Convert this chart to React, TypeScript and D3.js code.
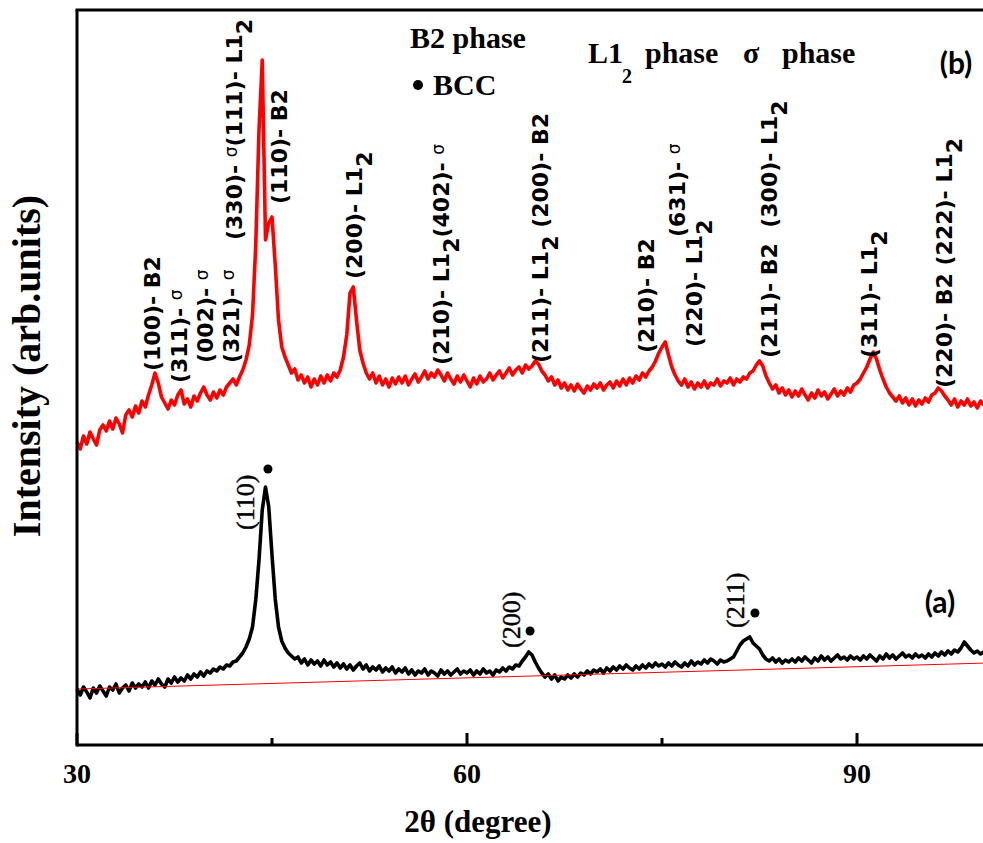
import React, { useEffect, useRef } from "react";
import * as d3 from "d3";

const W = 983;
const H = 843;

// 2θ grid of both scans, 0.25 degree steps from 30 to 99.75
const twoTheta: number[] = d3.range(0, 280).map((i) => 30 + i * 0.25);

// (b) red scan, intensity in arb. units
const scanB: number[] = [
  303, 296, 309, 301, 313, 306, 300, 315, 320, 314, 324, 316, 327, 321, 312, 330, 335, 328, 339, 332,
  344, 338, 350, 360, 372, 362, 348, 342, 336, 345, 340, 350, 355, 341, 346, 338, 349, 344, 352, 358,
  350, 345, 353, 347, 355, 350, 358, 362, 366, 360, 368, 375, 385, 400, 430, 500, 615, 685, 505, 522,
  528, 480, 425, 398, 388, 380, 372, 376, 365, 370, 362, 368, 358, 366, 360, 369, 362, 370, 364, 372,
  368, 375, 388, 410, 452, 458, 425, 395, 382, 372, 366, 372, 362, 369, 360, 366, 358, 367, 361, 368,
  362, 369, 360, 366, 371, 363, 368, 374, 366, 372, 368, 375, 370, 364, 372, 366, 361, 369, 363, 370,
  364, 358, 367, 361, 369, 363, 366, 372, 365, 370, 374, 367, 372, 377, 370, 375, 378, 372, 380, 376,
  379, 384, 381, 374, 370, 364, 368, 360, 365, 357, 362, 355, 360, 354, 361, 356, 352, 359, 355, 361,
  357, 362, 355, 360, 363, 357, 364, 359, 366, 360, 367, 362, 369, 365, 372, 368, 374, 378, 384, 392,
  398, 403, 390, 378, 370, 364, 360, 366, 358, 363, 356, 362, 358, 364, 357, 362, 360, 366, 359, 364,
  362, 367, 360, 366, 363, 368, 366, 372, 374, 380, 384, 379, 369, 362, 356, 360, 352, 357, 350, 355,
  348, 354, 349, 356, 350, 345, 352, 347, 355, 349, 353, 346, 351, 356, 349, 354, 350, 357, 353, 360,
  362, 366, 372, 378, 386, 393, 386, 375, 366, 358, 352, 348, 344, 349, 342, 347, 340, 346, 339, 345,
  341, 347, 343, 350, 352, 357, 354, 349, 345, 340, 346, 338, 344, 340, 346, 339, 343, 337, 344, 340,
];

// (a) black scan
const scanA: number[] = [
  56, 50, 58, 53, 47, 57, 52, 59, 54, 49, 58, 55, 61, 52, 57, 60, 54, 62, 57, 61,
  58, 63, 57, 64, 60, 66, 61, 58, 66, 62, 68, 63, 67, 64, 70, 66, 71, 68, 73, 69,
  74, 72, 76, 74, 78, 76, 80, 79, 83, 84, 88, 92, 98, 106, 118, 145, 185, 235, 258, 238,
  190, 146, 118, 104, 97, 92, 89, 86, 88, 82, 86, 80, 85, 81, 84, 79, 85, 80, 83, 78,
  82, 77, 81, 76, 80, 75, 79, 82, 76, 80, 74, 78, 75, 79, 73, 77, 74, 78, 72, 76,
  73, 77, 71, 75, 70, 74, 72, 76, 70, 74, 72, 69, 75, 71, 74, 70, 73, 76, 71, 74,
  72, 75, 70, 74, 71, 76, 72, 74, 70, 75, 73, 77, 74, 78, 76, 80, 79, 84, 88, 93,
  90, 83, 77, 72, 68, 71, 66, 70, 64, 68, 66, 70, 67, 71, 68, 72, 70, 74, 71, 75,
  73, 76, 72, 77, 74, 78, 75, 79, 76, 80, 77, 75, 79, 76, 80, 77, 81, 78, 82, 79,
  81, 78, 82, 79, 83, 80, 78, 82, 79, 84, 80, 83, 81, 85, 82, 86, 84, 81, 85, 83,
  84, 86, 88, 94, 100, 104, 106, 108, 102, 99, 96, 90, 86, 84, 87, 83, 86, 82, 85, 83,
  86, 83, 87, 84, 88, 85, 82, 87, 84, 89, 85, 88, 84, 87, 90, 86, 88, 85, 89, 86,
  88, 85, 89, 86, 90, 87, 84, 89, 86, 91, 87, 90, 86, 89, 92, 88, 90, 87, 91, 88,
  90, 87, 91, 88, 92, 89, 93, 90, 94, 91, 95, 93, 97, 103, 99, 95, 92, 94, 91, 93,
];

// straight background line under scan (a)
const fitTheta = [30, 100];
const fitI = [56, 82];

const majorTicks = [30, 60, 90];
const minorTicks = [45, 75];

// peak labels of (b): 2θ, intensity where the label starts, text
// "_2" = subscript 2, "~" = small sigma
const labelThetaB = [36.38, 38.46, 40.46, 42.46, 42.69, 46.15, 51.92, 58.62, 66.23, 74.38, 76.77, 78.08, 83.85, 91.54, 97.31];
const labelIB = [374, 362, 382, 382, 505, 541, 466, 380, 382, 392, 508, 398, 387, 387, 357];
const labelTextB = [
  "(100)- B2",
  "(311)- ~",
  "(002)- ~",
  "(321)- ~",
  "(330)- ~(111)- L1_2",
  "(110)- B2",
  "(200)- L1_2",
  "(210)- L1_2(402)- ~",
  "(211)- L1_2 (200)- B2",
  "(210)- B2",
  "(631)- ~",
  "(220)- L1_2",
  "(211)- B2  (300)- L1_2",
  "(311)- L1_2",
  "(220)- B2 (222)- L1_2",
];

// BCC peaks of (a)
const labelThetaA = [43.62, 64.08, 81.31];
const labelIA = [215, 97, 117];
const labelTextA = ["(110)", "(200)", "(211)"];
const dotThetaA = [44.69, 64.85, 82.15];
const dotIA = [276, 114, 132];

const SERIF = "'Liberation Serif', 'Times New Roman', serif";
const SANS = "'DejaVu Sans', Verdana, sans-serif";

export default function App() {
  const ref = useRef<SVGSVGElement>(null);

  useEffect(() => {
    const svg = d3.select(ref.current);
    svg.selectAll("*").remove();

    const x = d3.scaleLinear().domain([30, 100]).range([77, 987]);
    const y = d3.scaleLinear().domain([0, 735]).range([745, 10]);

    const line = d3
      .line<[number, number]>()
      .x((d) => x(d[0]))
      .y((d) => y(d[1]));

    const plot = svg.append("g");

    // scans
    plot
      .append("path")
      .attr("d", line(twoTheta.map((t, i) => [t, scanA[i]] as [number, number])))
      .attr("fill", "none")
      .attr("stroke", "#000")
      .attr("stroke-width", 3.6)
      .attr("stroke-linejoin", "round");
    plot
      .append("path")
      .attr("d", line(fitTheta.map((t, i) => [t, fitI[i]] as [number, number])))
      .attr("fill", "none")
      .attr("stroke", "#ff0000")
      .attr("stroke-width", 1);
    plot
      .append("path")
      .attr("d", line(twoTheta.map((t, i) => [t, scanB[i]] as [number, number])))
      .attr("fill", "none")
      .attr("stroke", "#ff0000")
      .attr("stroke-width", 3.6)
      .attr("stroke-linejoin", "round");

    // frame
    const frame = svg.append("g").attr("stroke", "#000").attr("stroke-width", 3);
    frame.append("line").attr("x1", x(30)).attr("x2", W).attr("y1", y(0)).attr("y2", y(0));
    frame.append("line").attr("x1", x(30)).attr("x2", x(30)).attr("y1", y(735)).attr("y2", y(0) + 1.5);
    frame.append("line").attr("x1", x(30) - 1.5).attr("x2", W).attr("y1", y(735)).attr("y2", y(735));

    // ticks (inward)
    majorTicks.forEach((t) => {
      frame.append("line").attr("x1", x(t)).attr("x2", x(t)).attr("y1", y(0)).attr("y2", y(0) - 12);
    });
    minorTicks.forEach((t) => {
      frame.append("line").attr("x1", x(t)).attr("x2", x(t)).attr("y1", y(0)).attr("y2", y(0) - 7);
    });
    svg
      .append("g")
      .selectAll("text")
      .data(majorTicks)
      .enter()
      .append("text")
      .attr("x", (d) => x(d))
      .attr("y", 783)
      .attr("text-anchor", "middle")
      .attr("font-family", SERIF)
      .attr("font-weight", "bold")
      .attr("font-size", 28)
      .text((d) => d);

    // axis titles
    svg
      .append("text")
      .attr("x", 478)
      .attr("y", 832)
      .attr("text-anchor", "middle")
      .attr("font-family", SERIF)
      .attr("font-weight", "bold")
      .attr("font-size", 31)
      .text("2θ (degree)");
    svg
      .append("text")
      .attr("transform", "translate(40,366) rotate(-90)")
      .attr("text-anchor", "middle")
      .attr("font-family", SERIF)
      .attr("font-weight", "bold")
      .attr("font-size", 40)
      .text("Intensity (arb.units)");

    // peak labels of (b)
    const fs = 22;
    labelTextB.forEach((s, i) => {
      const txt = svg
        .append("text")
        .attr("transform", `translate(${x(labelThetaB[i])},${y(labelIB[i])}) rotate(-90)`)
        .attr("font-family", SANS)
        .attr("font-weight", "bold")
        .attr("font-size", fs)
        .style("white-space", "pre");
      let shift = 0;
      s.split(/(_2|~)/)
        .filter((p) => p !== "")
        .forEach((p) => {
          const ts = txt.append("tspan");
          if (p === "_2") {
            ts.attr("dy", 10 - shift).text("2");
            shift = 10;
          } else if (p === "~") {
            ts.attr("dy", -5 - shift).attr("font-weight", "normal").attr("font-size", fs - 5).text("σ");
            shift = -5;
          } else {
            ts.attr("dy", -shift).text(p);
            shift = 0;
          }
        });
    });

    // BCC labels of (a)
    labelTextA.forEach((s, i) => {
      svg
        .append("text")
        .attr("transform", `translate(${x(labelThetaA[i])},${y(labelIA[i])}) rotate(-90)`)
        .attr("font-family", SERIF)
        .attr("font-size", 26)
        .attr("stroke", "#000")
        .attr("stroke-width", 0.4)
        .text(s);
      svg
        .append("circle")
        .attr("cx", x(dotThetaA[i]))
        .attr("cy", y(dotIA[i]))
        .attr("r", 4.5)
        .attr("fill", "#000");
    });

    // phase legend
    const leg = svg
      .append("g")
      .attr("font-family", SERIF)
      .attr("font-weight", "bold")
      .attr("font-size", 30)
      .attr("fill", "#000");
    leg.append("text").attr("x", 410).attr("y", 48).text("B2 phase");
    leg.append("circle").attr("cx", 418).attr("cy", 85).attr("r", 5);
    leg.append("text").attr("x", 433).attr("y", 95).text("BCC");
    leg.append("text").attr("x", 588).attr("y", 63).text("L1");
    leg.append("text").attr("x", 622).attr("y", 83).attr("font-size", 20).text("2");
    leg.append("text").attr("x", 645).attr("y", 63).text("phase");
    leg.append("text").attr("x", 743).attr("y", 63).text("σ");
    leg.append("text").attr("x", 782).attr("y", 63).text("phase");

    // panel tags
    const tag = svg
      .append("g")
      .attr("font-family", "Lato, 'Open Sans', sans-serif")
      .attr("font-weight", "bold")
      .attr("font-size", 30)
      .attr("text-anchor", "middle");
    tag.append("text").attr("x", 956).attr("y", 74).text("(b)");
    tag.append("text").attr("x", 940).attr("y", 613).text("(a)");
  }, []);

  return (
    <svg
      ref={ref}
      width={W}
      height={H}
      style={{ position: "absolute", left: 0, top: 0, background: "#fff" }}
    />
  );
}
